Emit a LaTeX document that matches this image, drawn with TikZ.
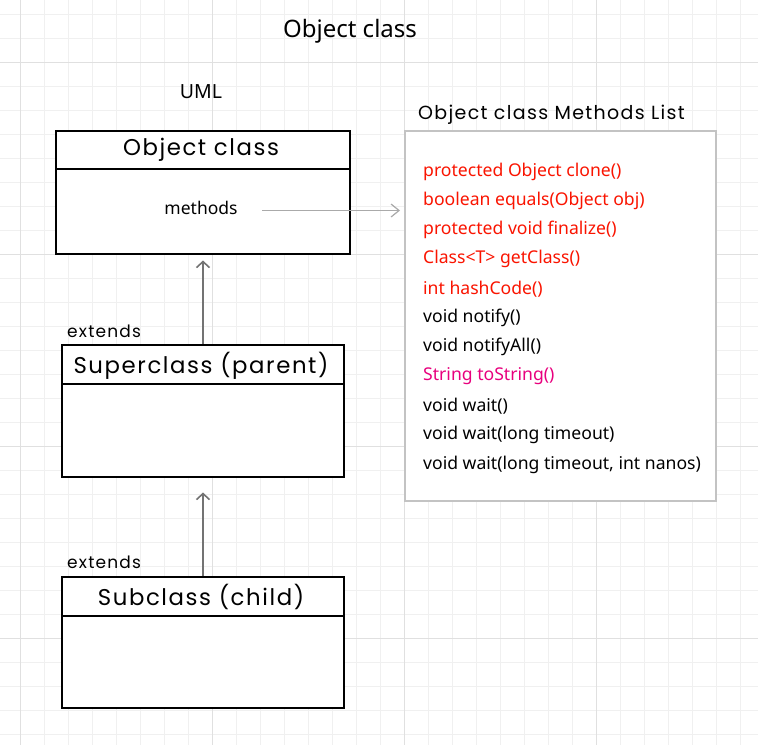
\documentclass[tikz,border=0pt]{standalone}
\usepackage{fontspec}
\setmainfont{Noto Sans}
\newfontfamily\geo{Poppins}[LetterSpace=7]
\usetikzlibrary{arrows.meta}
\definecolor{gridminor}{RGB}{240,240,240}
\definecolor{gridmajor}{RGB}{224,224,224}
\definecolor{mred}{RGB}{250,20,0}
\definecolor{mmag}{RGB}{232,0,126}
\definecolor{arrgray}{RGB}{115,115,115}
\definecolor{lightarr}{RGB}{170,170,170}
\definecolor{listborder}{RGB}{195,195,195}
\tikzset{
  classbox/.style={draw=black, line width=2pt, fill=white, inner sep=0pt, anchor=north west},
  headtext/.style={font=\geo\fontsize{22.8}{26}\selectfont, inner sep=0pt},
  bodytext/.style={font=\fontsize{17.6}{21}\selectfont, inner sep=0pt, anchor=west},
  inherit/.style={draw=arrgray, line width=2pt, -{Straight Barb[length=6pt,width=13pt,line width=1.6pt]}},
  link/.style={draw=lightarr, line width=1.2pt, -{Straight Barb[length=8pt,width=13pt,line width=1.2pt]}},
}
\begin{document}
\begin{tikzpicture}[x=1pt,y=-1pt]
\fill[white] (0,0) rectangle (758,745);
\useasboundingbox (0,0) rectangle (758,745);
% grid
\foreach \gx in {-4,20,...,758} \draw[gridminor, line width=1pt] (\gx,0) -- (\gx,745);
\foreach \gy in {14,38,...,745} \draw[gridminor, line width=1pt] (0,\gy) -- (758,\gy);
\foreach \gx in {20,212,404,596} \draw[gridmajor, line width=1pt] (\gx,0) -- (\gx,745);
\foreach \gy in {62,254,446,638} \draw[gridmajor, line width=1pt] (0,\gy) -- (758,\gy);

% titles
\node[font=\fontsize{24}{28}\selectfont, inner sep=0pt] (title) at (350,31.5) {Object class};
\node[font=\fontsize{19.5}{23}\selectfont, inner sep=0pt] (uml) at (201,91.5) {UML};

% Object class box
\node[classbox, minimum width=294pt, minimum height=123pt] (obj) at (55,129.5) {};
\draw[line width=2pt] (55,168.5) coordinate (objdl) -- (349,168.5) coordinate (objdr);
\node[headtext] (objh) at (201,149.5) {Object class};
\node[font=\fontsize{17.5}{21}\selectfont, inner sep=0pt] (meth) at (201,208) {methods};

% Superclass box
\node[classbox, minimum width=282pt, minimum height=131.5pt] (sup) at (61,344) {};
\draw[line width=2pt] (61,384) coordinate (supdl) -- (343,384) coordinate (supdr);
\node[headtext] (suph) at (201,366) {Superclass (parent)};
\node[font=\geo\fontsize{17}{20}\selectfont, inner sep=0pt, anchor=west] (ext1) at (67,331.5) {extends};

% Subclass box
\node[classbox, minimum width=282pt, minimum height=131.5pt] (sub) at (61,575.5) {};
\draw[line width=2pt] (61,615.5) coordinate (subdl) -- (343,615.5) coordinate (subdr);
\node[headtext] (subh) at (201,597) {Subclass (child)};
\node[font=\geo\fontsize{17}{20}\selectfont, inner sep=0pt, anchor=west] (ext2) at (67,562.5) {extends};

% Methods list box
\node[draw=listborder, line width=2pt, fill=white, inner sep=0pt, anchor=north west, minimum width=311pt, minimum height=370pt] (list) at (404,130) {};
\node[font=\geo\fontsize{19}{22}\selectfont, inner sep=0pt, anchor=west] (listh) at (418,114.5) {Object class Methods List};

\node[bodytext, mred] (m1) at (423,171.5) {protected Object clone()};
\node[bodytext, mred] (m2) at (423,200.8) {boolean equals(Object obj)};
\node[bodytext, mred] (m3) at (423,230.1) {protected void finalize()};
\node[bodytext, mred] (m4) at (423,259.4) {Class<T> getClass()};
\node[bodytext, mred] (m5) at (423,288.7) {int hashCode()};
\node[bodytext] (m6) at (423,318) {void notify()};
\node[bodytext] (m7) at (423,347.3) {void notifyAll()};
\node[bodytext, mmag] (m8) at (423,376.6) {String toString()};
\node[bodytext] (m9) at (423,405.9) {void wait()};
\node[bodytext] (m10) at (423,435.2) {void wait(long timeout)};
\node[bodytext] (m11) at (423,464.5) {void wait(long timeout, int nanos)};

% connectors
\coordinate (linkstart) at (262,210.5);
\coordinate (linkend) at (400,210.5);
\draw[link] (linkstart) -- (linkend);
\draw[inherit, shorten >=6pt] (sup.north) -- (obj.south);
\draw[inherit, shorten >=15pt] (sub.north) -- (sup.south);
\end{tikzpicture}
\end{document}
